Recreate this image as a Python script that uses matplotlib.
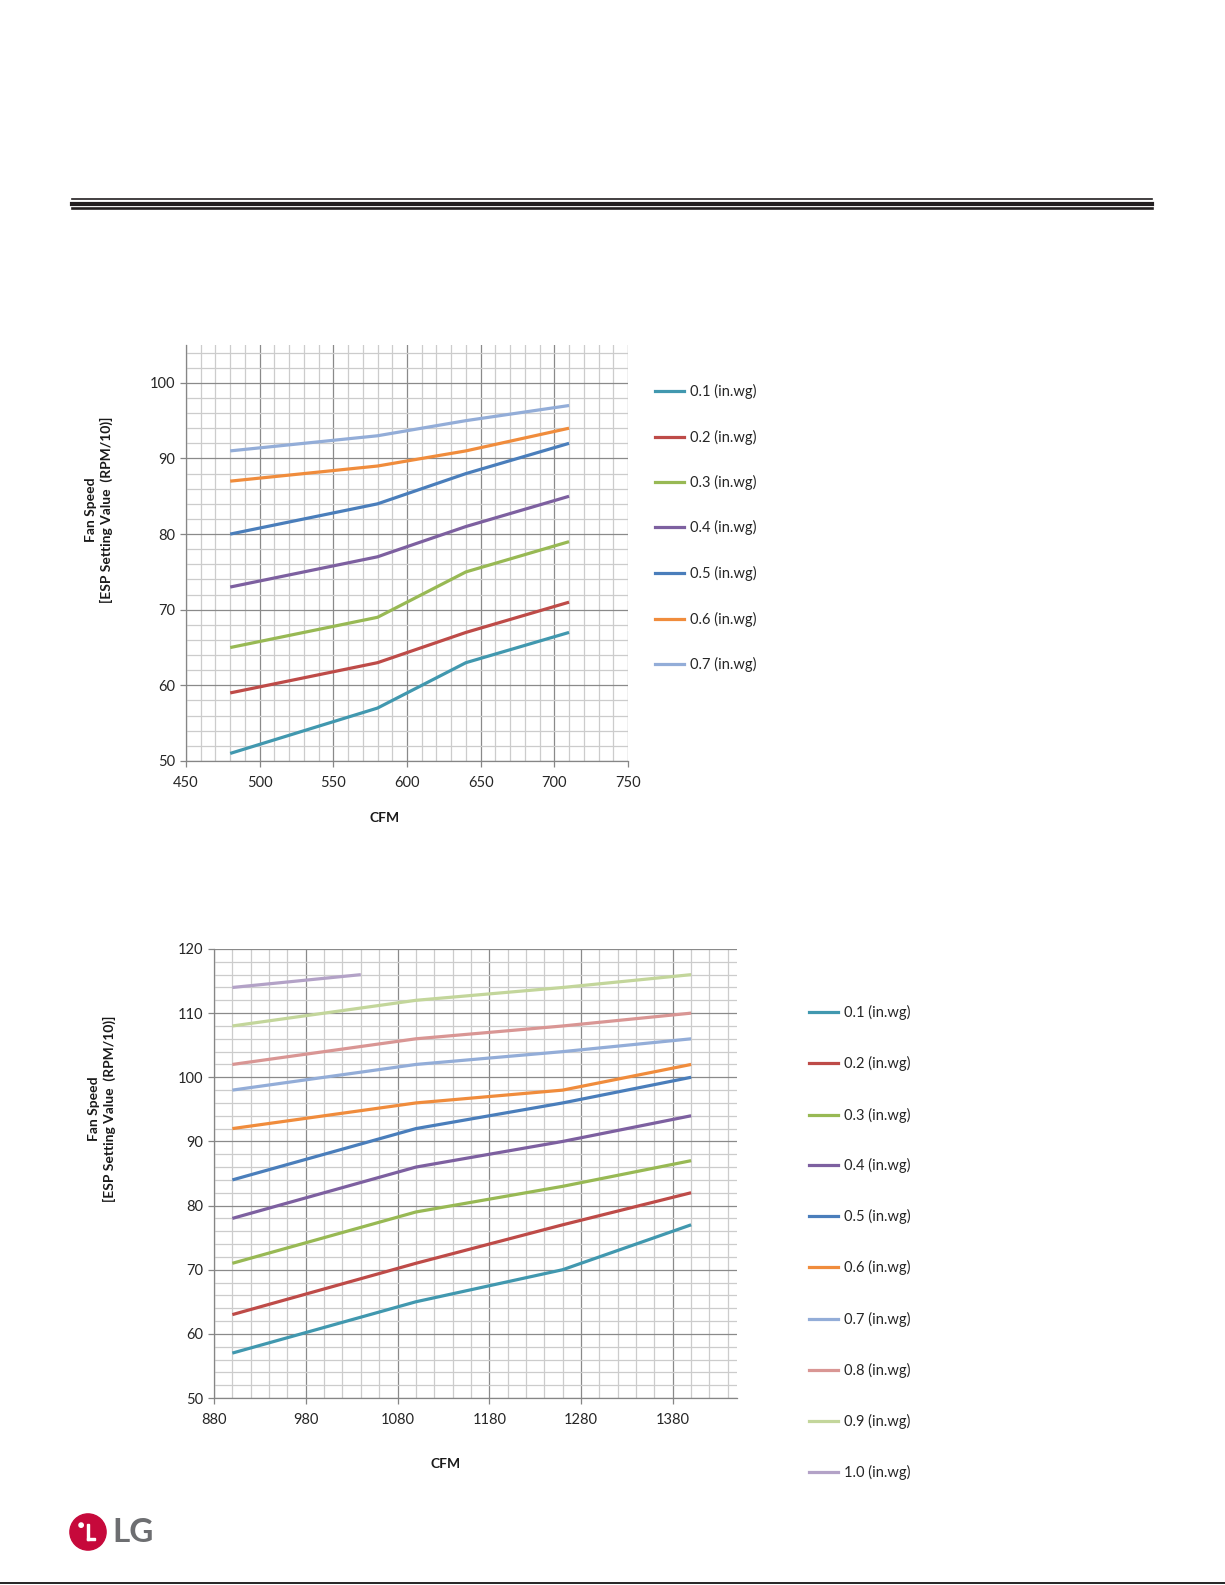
import matplotlib
matplotlib.use("Agg")
import matplotlib.pyplot as plt
from matplotlib.lines import Line2D
from matplotlib.patches import Circle, Rectangle
from matplotlib.ticker import MultipleLocator

plt.rcParams['font.family'] = ['Lato', 'DejaVu Sans']

# data - upper chart
cfm_top = [480, 580, 640, 710]
top_series = {
    '0.1 (in.wg)': [51, 57, 63, 67],
    '0.2 (in.wg)': [59, 63, 67, 71],
    '0.3 (in.wg)': [65, 69, 75, 79],
    '0.4 (in.wg)': [73, 77, 81, 85],
    '0.5 (in.wg)': [80, 84, 88, 92],
    '0.6 (in.wg)': [87, 89, 91, 94],
    '0.7 (in.wg)': [91, 93, 95, 97],
}

# data - lower chart
cfm_bot = [900, 1100, 1260, 1400]
cfm_bot_10 = [900, 1040]
bot_series = {
    '0.1 (in.wg)': [57, 65, 70, 77],
    '0.2 (in.wg)': [63, 71, 77, 82],
    '0.3 (in.wg)': [71, 79, 83, 87],
    '0.4 (in.wg)': [78, 86, 90, 94],
    '0.5 (in.wg)': [84, 92, 96, 100],
    '0.6 (in.wg)': [92, 96, 98, 102],
    '0.7 (in.wg)': [98, 102, 104, 106],
    '0.8 (in.wg)': [102, 106, 108, 110],
    '0.9 (in.wg)': [108, 112, 114, 116],
    '1.0 (in.wg)': [114, 116],
}

colors = ['#4198AF', '#BE4B48', '#98B954', '#7D60A0', '#4A7EBB',
          '#F08C3C', '#93ADD8', '#D99694', '#C3D69B', '#B3A2C7']

W, H = 1225, 1585


def fx(px):
    return px / W


def fy(py):
    return 1 - py / H


def style_axes(ax, xlim, ylim, xmaj, xmin, ymaj, ymin):
    ax.set_xlim(*xlim)
    ax.set_ylim(*ylim)
    ax.xaxis.set_major_locator(MultipleLocator(xmaj, offset=xlim[0] % xmaj))
    ax.xaxis.set_minor_locator(MultipleLocator(xmin, offset=xlim[0] % xmin))
    ax.yaxis.set_major_locator(MultipleLocator(ymaj))
    ax.yaxis.set_minor_locator(MultipleLocator(ymin))
    ax.grid(which='minor', color='#CCCCCC', linewidth=0.9)
    ax.grid(which='major', color='#8A8A8A', linewidth=0.9)
    ax.set_axisbelow(True)
    for s in ['top', 'right']:
        ax.spines[s].set_visible(False)
    for s in ['left', 'bottom']:
        ax.spines[s].set_color('#868686')
        ax.spines[s].set_linewidth(0.9)
    ax.tick_params(which='major', direction='out', length=4, width=0.9,
                   color='#868686', labelsize=10.5, labelcolor='#262626', pad=4)
    ax.tick_params(axis='x', which='major', pad=7)
    ax.tick_params(which='minor', length=0)


def draw_legend(fig, labels, x0, ys):
    for i, (lab, y) in enumerate(zip(labels, ys)):
        fig.add_artist(Line2D([fx(x0), fx(x0 + 29)], [fy(y), fy(y)],
                              transform=fig.transFigure, color=colors[i], lw=2.3))
        fig.text(fx(x0 + 35), fy(y), lab, fontsize=10.5, color='#262626',
                 ha='left', va='center')


fig = plt.figure(figsize=(W / 100, H / 100), dpi=100)

# header rules
for y, lw in [(199, 1.2), (203.5, 3.0), (208, 1.9)]:
    fig.add_artist(Line2D([fx(72), fx(1152)], [fy(y), fy(y)],
                          transform=fig.transFigure, color='#231F20', lw=lw))

ylab = 'Fan Speed\n[ESP Setting Value  (RPM/10)]'

# upper chart
ax1 = fig.add_axes([fx(186), fy(761), fx(628) - fx(186), fy(345) - fy(761)])
style_axes(ax1, (450, 750), (50, 105), 50, 10, 10, 2)
for i, (lab, vals) in enumerate(top_series.items()):
    ax1.plot(cfm_top, vals, color=colors[i], lw=2.3, solid_capstyle='butt')
ax1.set_yticks([50, 60, 70, 80, 90, 100])
fig.text(fx(99), fy(510), ylab, rotation=90,
         fontsize=10, fontweight='bold', ha='center', va='center',
         multialignment='center', linespacing=1.2, color='#1a1a1a')
fig.text(fx(385), fy(818), 'CFM', fontsize=10, fontweight='bold',
         ha='center', va='center', color='#1a1a1a')
draw_legend(fig, list(top_series.keys()), 655,
            [391, 437, 482, 527, 573, 619, 664])

# lower chart
ax2 = fig.add_axes([fx(214), fy(1398), fx(737) - fx(214), fy(949) - fy(1398)])
style_axes(ax2, (880, 1450), (50, 120), 100, 20, 10, 2)
for i, (lab, vals) in enumerate(bot_series.items()):
    xs = cfm_bot_10 if len(vals) == 2 else cfm_bot
    ax2.plot(xs, vals, color=colors[i], lw=2.3, solid_capstyle='butt')
fig.text(fx(102), fy(1109), ylab, rotation=90,
         fontsize=10, fontweight='bold', ha='center', va='center',
         multialignment='center', linespacing=1.2, color='#1a1a1a')
fig.text(fx(446), fy(1464), 'CFM', fontsize=10, fontweight='bold',
         ha='center', va='center', color='#1a1a1a')
draw_legend(fig, list(bot_series.keys()), 809,
            [1012, 1063, 1115, 1165, 1216, 1267, 1319, 1370, 1421, 1472])

# LG logo
logo = fig.add_axes([fx(69), fy(1551), fx(38), fy(1513) - fy(1551)])
logo.set_xlim(-1.05, 1.05)
logo.set_ylim(-1.05, 1.05)
logo.set_aspect('equal')
logo.axis('off')
logo.add_patch(Circle((0, 0), 1.0, color='#C6093B'))
logo.add_patch(Circle((-0.38, 0.38), 0.12, color='white'))
logo.add_patch(Rectangle((-0.08, -0.45), 0.13, 0.9, color='white'))
logo.add_patch(Rectangle((-0.08, -0.45), 0.45, 0.12, color='white'))
fig.text(fx(112), fy(1533), 'LG', fontsize=24, fontweight='bold',
         color='#6D6E71', ha='left', va='center')

# bottom rule
fig.add_artist(Line2D([0, 1], [fy(1583), fy(1583)], transform=fig.transFigure,
                      color='black', lw=1.2))

fig.savefig('out.png', dpi=100)
